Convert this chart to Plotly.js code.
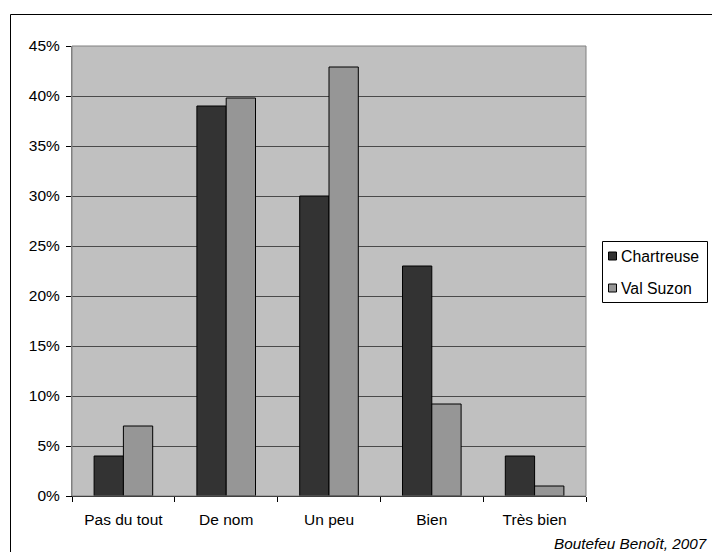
<!DOCTYPE html>
<html>
<head>
<meta charset="utf-8">
<script src="https://cdn.plot.ly/plotly-3.0.1.min.js"></script>
<style>html,body{margin:0;padding:0;background:#fff;}#chart{width:712px;height:552px;}</style>
</head>
<body>
<div id="chart"></div>
<script>
const categories = ["Pas du tout", "De nom", "Un peu", "Bien", "Très bien"];
const chartreuse = [4, 39, 30, 23, 4];
const valSuzon = [7, 39.8, 42.9, 9.2, 1];
const seriesNames = ["Chartreuse", "Val Suzon"];
const seriesColors = ["#333333", "#969696"];
const yTicks = [0, 5, 10, 15, 20, 25, 30, 35, 40, 45];
const yTickLabels = yTicks.map(v => v + "%");
const credit = "Boutefeu Benoît, 2007";

const W = 712, H = 552;
const L = 72, R = 586, T = 46, B = 496;
const px = x => (x - L) / (R - L);
const py = y => (B - y) / (B - T);

const FONT = "'Liberation Sans', Arial, sans-serif";

const traces = [
  {type: "bar", name: seriesNames[0], x: categories, y: chartreuse,
   marker: {color: seriesColors[0], line: {color: "#000", width: 1}}},
  {type: "bar", name: seriesNames[1], x: categories, y: valSuzon,
   marker: {color: seriesColors[1], line: {color: "#000", width: 1}}}
];

const shapes = [
  {type: "rect", xref: "paper", yref: "paper", x0: 0, x1: 1, y0: 0, y1: 1,
   line: {color: "#808080", width: 1}, fillcolor: "rgba(0,0,0,0)", layer: "above"},
  {type: "rect", xref: "paper", yref: "paper", x0: px(10.5), x1: px(730), y0: py(14.5), y1: py(570),
   line: {color: "#000", width: 1}, fillcolor: "rgba(0,0,0,0)"},
  // legend box
  {type: "rect", xref: "paper", yref: "paper", x0: px(602.5), x1: px(707.5), y0: py(241.5), y1: py(302.5),
   line: {color: "#000", width: 1}, fillcolor: "#fff"}
];
const annotations = [
  {text: "<i>" + credit + "</i>", xref: "paper", yref: "paper",
   x: px(709), y: py(543), xanchor: "right", yanchor: "middle",
   showarrow: false, font: {family: FONT, size: 15.3}}
];
const legendRows = [256, 288];
seriesNames.forEach((name, i) => {
  const cy = legendRows[i];
  shapes.push({type: "rect", xref: "paper", yref: "paper",
    x0: px(608.5), x1: px(616.5), y0: py(cy - 4), y1: py(cy + 4),
    line: {color: "#000", width: 1}, fillcolor: seriesColors[i]});
  annotations.push({text: name, xref: "paper", yref: "paper",
    x: px(619), y: py(cy), xanchor: "left", yanchor: "middle",
    showarrow: false, font: {family: FONT, size: 15.8}});
});

const layout = {
  width: W, height: H,
  margin: {l: L, r: W - R, t: T, b: H - B, pad: 0},
  paper_bgcolor: "#fff",
  plot_bgcolor: "#c0c0c0",
  font: {family: FONT, size: 15.5, color: "#000"},
  barmode: "group",
  bargap: 0.43,
  bargroupgap: 0,
  showlegend: false,
  xaxis: {
    type: "category",
    showline: true, linecolor: "#000", linewidth: 1,
    ticks: "outside", ticklen: 5, tickcolor: "#000", tickson: "boundaries",
    ticklabelstandoff: 9,
    showgrid: false, zeroline: false, fixedrange: true
  },
  yaxis: {
    range: [0, 45],
    tickvals: yTicks, ticktext: yTickLabels,
    showline: true, linecolor: "#808080", linewidth: 1,
    ticks: "outside", ticklen: 5, tickcolor: "#000",
    ticklabelstandoff: 3,
    showgrid: true, gridcolor: "#4a4a4a", gridwidth: 1,
    zeroline: false, fixedrange: true
  },
  shapes: shapes,
  annotations: annotations
};

Plotly.newPlot("chart", traces, layout, {displayModeBar: false, staticPlot: true});
</script>
</body>
</html>
